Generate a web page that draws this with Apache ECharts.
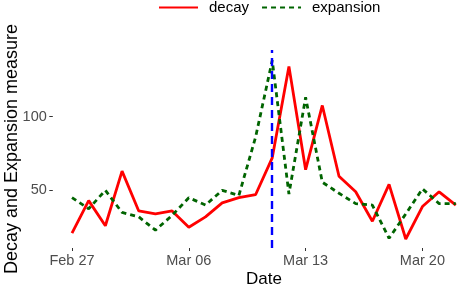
<!DOCTYPE html>
<html>
<head>
<meta charset="utf-8">
<script src="https://cdn.jsdelivr.net/npm/echarts@6/dist/echarts.min.js"></script>
<style>html,body{margin:0;padding:0;background:#fff;}#c{width:459px;height:288px;}</style>
</head>
<body>
<div id="c"></div>
<script>
var dates = ["2021-02-27","2021-02-28","2021-03-01","2021-03-02","2021-03-03","2021-03-04","2021-03-05","2021-03-06",
  "2021-03-07","2021-03-08","2021-03-09","2021-03-10","2021-03-11","2021-03-12","2021-03-13","2021-03-14",
  "2021-03-15","2021-03-16","2021-03-17","2021-03-18","2021-03-19","2021-03-20","2021-03-21","2021-03-22"];
var decay = [21,43,26,63,36,34,36,25,32,41.5,45,47,72,134,64,107.5,59.5,49,29,54,17,39,49,40];
var expansion = [45,37.5,50,35,32,23,33,45,40,50,46.5,86,138,47.5,113,55.5,48,41,40,17.5,34,51,41,41];
var tickDates = ["2021-02-27","2021-03-06","2021-03-13","2021-03-20"];
var tickLabels = ["Feb 27","Mar 06","Mar 13","Mar 20"];
var yTicks = [50,100];
var eventDate = "2021-03-11";

var DAY = 86400000;
var t0 = Date.parse(dates[0]);
function idx(d){ return Math.round((Date.parse(d) - t0)/DAY); }
var xTicks = tickDates.map(idx);
var labelMap = {};
xTicks.forEach(function(v,i){ labelMap[v] = tickLabels[i]; });

var chart = echarts.init(document.getElementById('c'), null, {renderer:'canvas'});
var font = 'Liberation Sans, Arial, sans-serif';
chart.setOption({
  animation:false,
  backgroundColor:'#fff',
  textStyle:{fontFamily:font},
  legend:{
    left:158, top:0, padding:0,
    itemWidth:39, itemHeight:16, itemGap:12,
    itemStyle:{opacity:0},
    textStyle:{fontSize:15, color:'#000', fontFamily:font, padding:[0,0,0,6]},
    data:['decay','expansion']
  },
  grid:{left:52.8, right:-16, top:50, bottom:40, outerBoundsMode:'none', containLabel:false},
  xAxis:{
    type:'value', min:-1.15, max:24.15,
    name:'Date', nameLocation:'middle', nameGap:22.5, nameMoveOverlap:false,
    nameTextStyle:{fontSize:17, color:'#000', fontFamily:font},
    axisLine:{show:false, onZero:false},
    splitLine:{show:false},
    axisTick:{show:true, length:3, lineStyle:{color:'#333'}, customValues:xTicks},
    axisLabel:{fontSize:14.5, color:'#4d4d4d', margin:5, customValues:xTicks,
      formatter:function(v){ return labelMap[v] || ''; }}
  },
  yAxis:{
    type:'value', min:10.9, max:145.1,
    name:'Decay and Expansion measure', nameLocation:'middle', nameGap:32, nameMoveOverlap:false,
    nameTextStyle:{fontSize:18, color:'#000', fontFamily:font},
    axisLine:{show:false, onZero:false},
    splitLine:{show:false},
    axisTick:{show:true, length:3.5, lineStyle:{color:'#333'}, customValues:yTicks},
    axisLabel:{fontSize:14.5, color:'#4d4d4d', margin:6, customValues:yTicks}
  },
  series:[
    {name:'decay', type:'line', symbol:'none', clip:false,
     data:dates.map(function(d,i){return [idx(d), decay[i]];}),
     lineStyle:{color:'#ff0000', width:2.8}, itemStyle:{color:'#ff0000'}},
    {name:'expansion', type:'line', symbol:'none', clip:false,
     data:dates.map(function(d,i){return [idx(d), expansion[i]];}),
     lineStyle:{color:'#006400', width:2.8, type:[5,4]}, itemStyle:{color:'#006400'},
     markLine:{silent:true, symbol:'none', label:{show:false},
       lineStyle:{color:'#0000ff', width:2.4, type:[8,5]},
       data:[{xAxis:idx(eventDate)}]}}
  ]
});
</script>
</body>
</html>
